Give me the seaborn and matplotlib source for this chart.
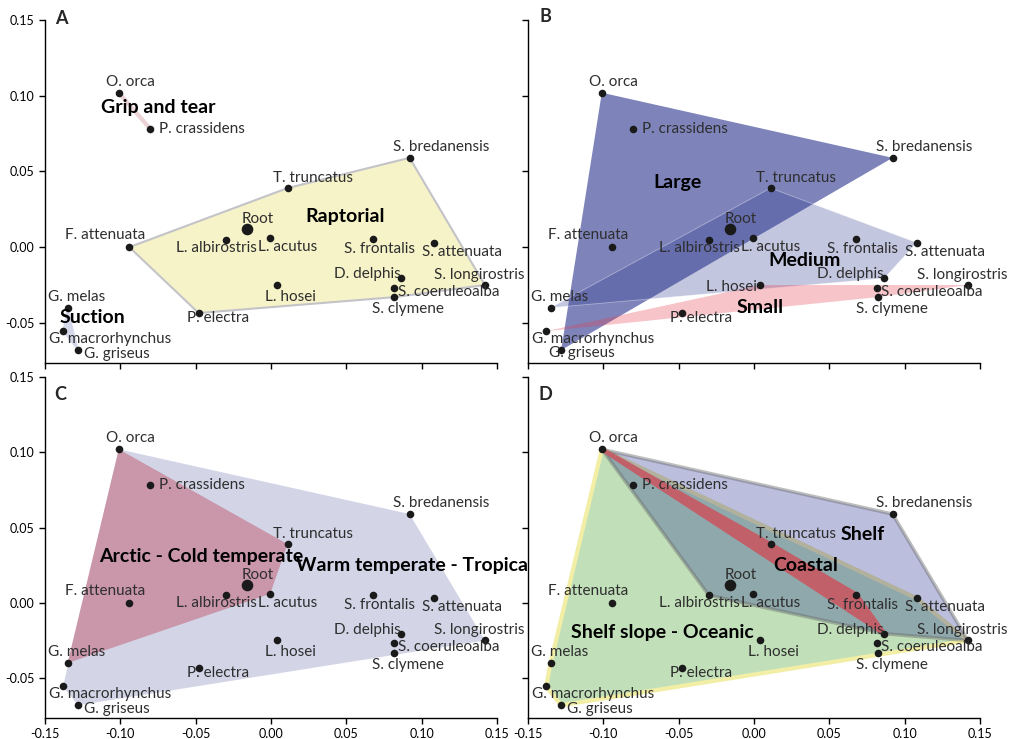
import numpy as np
import pandas as pd
import seaborn as sns
import matplotlib.pyplot as plt

sns.set_style("ticks")
plt.rcParams['font.family'] = ['Lato', 'DejaVu Sans']

# morphospace coordinates
species = ['O. orca', 'P. crassidens', 'S. bredanensis', 'T. truncatus', 'Root',
           'L. albirostris', 'L. acutus', 'F. attenuata', 'S. frontalis', 'S. attenuata',
           'D. delphis', 'S. longirostris', 'S. coeruleoalba', 'S. clymene', 'L. hosei',
           'P. electra', 'G. melas', 'G. macrorhynchus', 'G. griseus']
pc1 = [-0.101, -0.080, 0.092, 0.011, -0.016, -0.030, -0.0005, -0.094, 0.068, 0.108,
       0.0865, 0.142, 0.0815, 0.082, 0.004, -0.048, -0.135, -0.138, -0.128]
pc2 = [0.102, 0.078, 0.059, 0.039, 0.012, 0.005, 0.006, 0.000, 0.0055, 0.003,
       -0.0205, -0.025, -0.027, -0.033, -0.025, -0.0435, -0.040, -0.0555, -0.068]

# groupings per panel
grip_and_tear = ['O. orca', 'P. crassidens']
raptorial = ['F. attenuata', 'T. truncatus', 'S. bredanensis', 'L. albirostris', 'L. acutus',
             'S. frontalis', 'S. attenuata', 'D. delphis', 'S. longirostris', 'S. coeruleoalba',
             'S. clymene', 'L. hosei', 'P. electra']
suction = ['G. melas', 'G. macrorhynchus', 'G. griseus']

large = ['O. orca', 'P. crassidens', 'S. bredanensis', 'F. attenuata', 'G. griseus']
medium = ['G. melas', 'T. truncatus', 'L. albirostris', 'L. acutus', 'S. frontalis',
          'S. attenuata', 'D. delphis']
small = ['G. macrorhynchus', 'P. electra', 'L. hosei', 'S. clymene', 'S. coeruleoalba',
         'S. longirostris']

warm = ['O. orca', 'S. bredanensis', 'T. truncatus', 'S. frontalis', 'S. attenuata', 'D. delphis',
        'S. longirostris', 'S. coeruleoalba', 'S. clymene', 'L. hosei', 'P. electra',
        'G. macrorhynchus', 'G. griseus']
arctic = ['O. orca', 'P. crassidens', 'T. truncatus', 'L. acutus', 'L. albirostris',
          'F. attenuata', 'G. melas']

oceanic = ['O. orca', 'P. crassidens', 'T. truncatus', 'L. albirostris', 'L. acutus', 'F. attenuata',
           'S. frontalis', 'S. attenuata', 'D. delphis', 'S. longirostris', 'S. coeruleoalba',
           'S. clymene', 'L. hosei', 'P. electra', 'G. melas', 'G. macrorhynchus', 'G. griseus']
shelf = ['O. orca', 'P. crassidens', 'S. bredanensis', 'T. truncatus', 'L. albirostris',
         'L. acutus', 'S. frontalis', 'S. attenuata', 'D. delphis', 'S. longirostris']
coastal = ['O. orca', 'T. truncatus', 'S. frontalis', 'D. delphis']

df = pd.DataFrame({'species': species, 'pc1': pc1, 'pc2': pc2}).set_index('species')

# label placement (pixel offsets from the point, alignment)
label_pos = {
    'O. orca': (12, 11, 'center'), 'P. crassidens': (9, 0, 'left'),
    'S. bredanensis': (-17, 11, 'left'), 'T. truncatus': (-15, 10, 'left'),
    'Root': (-5, 10, 'left'), 'L. albirostris': (31, -8, 'right'),
    'L. acutus': (-12, -9, 'left'), 'F. attenuata': (16, 12, 'right'),
    'S. frontalis': (-29, -10, 'left'), 'S. attenuata': (-12, -9, 'left'),
    'D. delphis': (-1, 4, 'right'), 'S. longirostris': (-51, 10, 'left'),
    'S. coeruleoalba': (4, -4, 'left'), 'S. clymene': (-22, -12, 'left'),
    'L. hosei': (-12, -12, 'left'), 'P. electra': (-12, -5, 'left'),
    'G. melas': (-20, 11, 'left'), 'G. macrorhynchus': (-14, -8, 'left'),
    'G. griseus': (6, -4, 'left'),
}
label_pos_b = dict(label_pos)
label_pos_b['L. hosei'] = (-3, -2, 'right')
label_pos_b['G. griseus'] = (-12, -3, 'left')


def hull(names):
    pts = sorted(set((df.loc[n, 'pc1'], df.loc[n, 'pc2']) for n in names))
    if len(pts) < 3:
        return pts

    def cross(o, a, b):
        return (a[0] - o[0]) * (b[1] - o[1]) - (a[1] - o[1]) * (b[0] - o[0])
    lower, upper = [], []
    for p in pts:
        while len(lower) >= 2 and cross(lower[-2], lower[-1], p) <= 0:
            lower.pop()
        lower.append(p)
    for p in reversed(pts):
        while len(upper) >= 2 and cross(upper[-2], upper[-1], p) <= 0:
            upper.pop()
        upper.append(p)
    return lower[:-1] + upper[:-1]


def draw_group(ax, names, face, edge='none', lw=0, z=1):
    h = np.array(hull(names))
    ax.fill(h[:, 0], h[:, 1], facecolor=face, edgecolor=edge, linewidth=lw,
            joinstyle='round', zorder=z)


fig = plt.figure(figsize=(10.15, 7.39), dpi=100)
axA = fig.add_axes([0.0443, 0.5088, 0.4453, 0.4641])
axB = fig.add_axes([0.5202, 0.5088, 0.4453, 0.4641])
axC = fig.add_axes([0.0443, 0.0284, 0.4453, 0.4614])
axD = fig.add_axes([0.5202, 0.0284, 0.4453, 0.4614])

navy = (0.16, 0.20, 0.55)

# A: feeding mode
draw_group(axA, grip_and_tear, '#ecd3d6', '#ecd3d6', 3)
draw_group(axA, raptorial, '#f6f3c9', '#c4c4c8', 1.5)
draw_group(axA, suction, '#d6d9eb', '#d6d9eb', 1)

# B: size
draw_group(axB, large, navy + (0.6,), z=1)
draw_group(axB, medium, navy + (0.28,), (1, 1, 1, 0.4), 0.6, z=2)
draw_group(axB, small, (0.90, 0.24, 0.31, 0.3), z=3)

# C: climate
draw_group(axC, warm, '#d3d5e7')
draw_group(axC, arctic, '#c996aa', z=2)

# D: habitat
draw_group(axD, oceanic, '#c1e0b9', '#f2eea6', 3, z=1)
draw_group(axD, shelf, (0.09, 0.12, 0.55, 0.29), (0.4, 0.4, 0.4, 0.42), 2.5, z=2)
draw_group(axD, coastal, '#c2606a', '#c2606a', 3, z=3)

group_labels = {
    axA: [('Grip and tear', -0.0748, 0.0922), ('Raptorial', 0.049, 0.0201), ('Suction', -0.1185, -0.0465)],
    axB: [('Large', -0.0509, 0.043), ('Medium', 0.0336, -0.0088), ('Small', 0.004, -0.0397)],
    axC: [('Arctic - Cold temperate', -0.0466, 0.0305), ('Warm temperate - Tropical', 0.0956, 0.0245)],
    axD: [('Shelf', 0.0724, 0.0455), ('Coastal', 0.034, 0.025), ('Shelf slope - Oceanic', -0.0611, -0.0197)],
}

pts = df.reset_index()
for ax in [axA, axB, axC, axD]:
    sns.scatterplot(data=pts[pts.species != 'Root'], x='pc1', y='pc2', ax=ax, color='#1a1a1a',
                    s=30, linewidth=0, zorder=5)
    sns.scatterplot(data=pts[pts.species == 'Root'], x='pc1', y='pc2', ax=ax, color='#1a1a1a',
                    s=70, linewidth=0, zorder=5)
    lp = label_pos_b if ax is axB else label_pos
    for name in species:
        dx, dy, ha = lp[name]
        ax.annotate(name, (df.loc[name, 'pc1'], df.loc[name, 'pc2']), xytext=(dx, dy),
                    textcoords='offset pixels', ha=ha, va='center', fontsize=11,
                    color='#2e2e2e', zorder=6)
    for txt, gx, gy in group_labels[ax]:
        ax.text(gx, gy, txt, ha='center', va='center', fontsize=14, fontweight='bold',
                color='black', zorder=7)
    ax.set_xlim(-0.15, 0.15)
    ax.set_ylim(-0.0765, 0.15)
    ax.set_xticks([-0.15, -0.10, -0.05, 0.0, 0.05, 0.10, 0.15])
    ax.set_yticks([-0.05, 0.0, 0.05, 0.10, 0.15])
    ax.set_xticklabels(['%.2f' % v for v in ax.get_xticks()])
    ax.set_yticklabels(['%.2f' % v for v in ax.get_yticks()])
    ax.set_xlabel('')
    ax.set_ylabel('')
    ax.tick_params(direction='out', length=4, width=1, labelsize=9, colors='black')
    sns.despine(ax=ax)
    for s in ['left', 'bottom']:
        ax.spines[s].set_linewidth(1)
        ax.spines[s].set_color('black')

axA.tick_params(labelbottom=False)
axB.tick_params(labelbottom=False, labelleft=False)
axD.tick_params(labelleft=False)

for letter, fx, fy in [('A', 61, 18), ('B', 545, 17), ('C', 60, 394), ('D', 545, 394)]:
    fig.text(fx / 1015, 1 - fy / 739, letter, ha='center', va='center',
             fontsize=13, fontweight='bold')

fig.savefig('out.png', dpi=100)
